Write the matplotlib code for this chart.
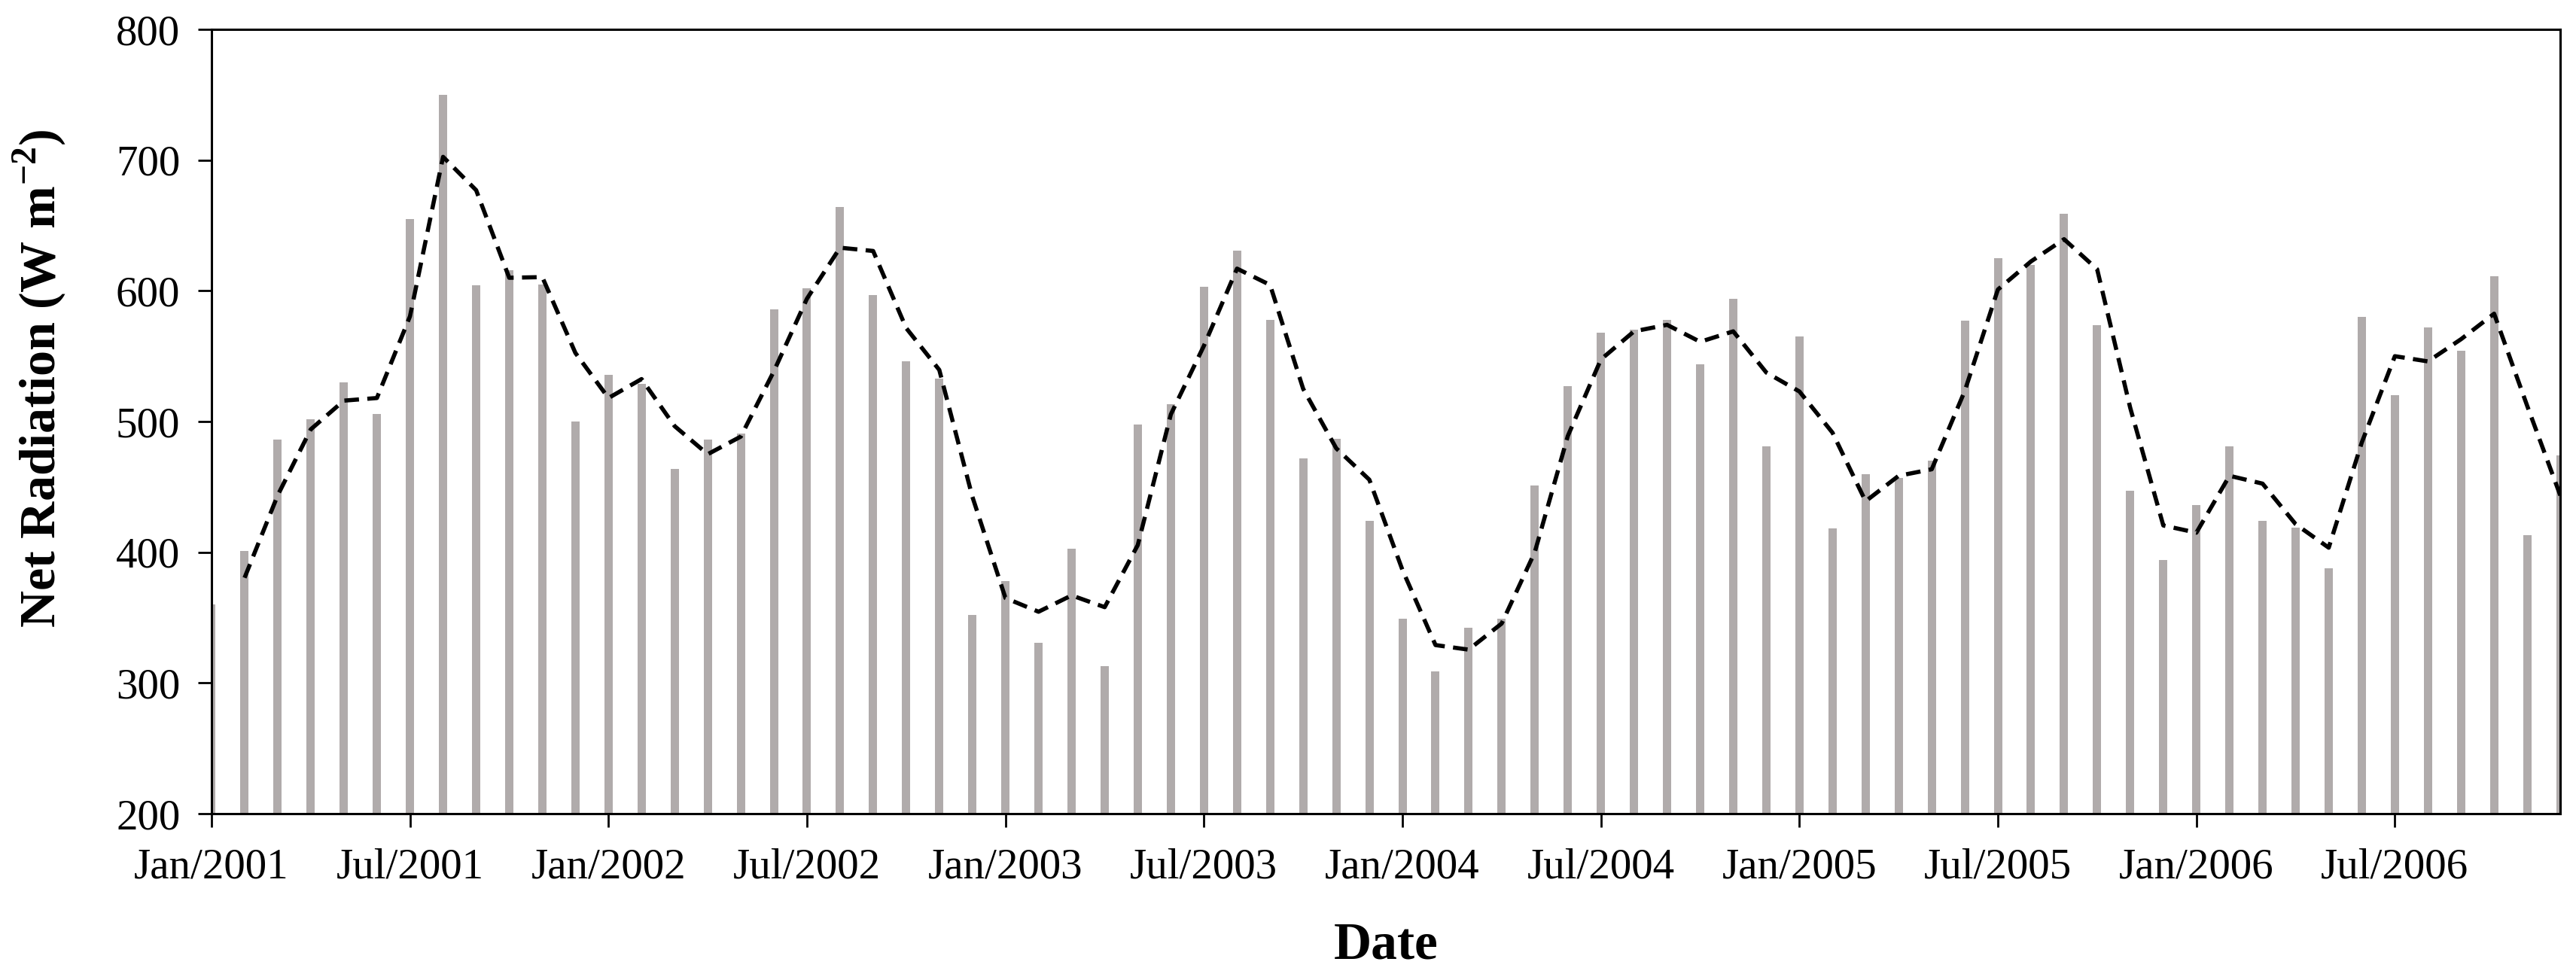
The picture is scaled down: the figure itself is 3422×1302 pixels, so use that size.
"""
Monthly net radiation, Jan/2001 - Dec/2006, bars with a 2-month moving average.
"""

import matplotlib
matplotlib.use('Agg')
import matplotlib.pyplot as plt
import numpy as np
import pandas as pd

# Monthly net radiation (W m-2)
net_radiation = [
    360, 401, 486, 502, 530, 506, 655, 750, 604, 616, 605, 500,   # 2001
    536, 529, 464, 486, 491, 586, 602, 664, 597, 546, 533, 352,   # 2002
    378, 331, 403, 313, 498, 513, 603, 631, 578, 472, 487, 424,   # 2003
    349, 309, 342, 349, 451, 527, 568, 570, 578, 544, 594, 481,   # 2004
    565, 418, 460, 457, 470, 577, 625, 620, 659, 574, 447, 394,   # 2005
    436, 481, 424, 419, 388, 580, 520, 572, 554, 611, 413, 474,   # 2006
]

tick_labels = ['Jan/2001', 'Jul/2001', 'Jan/2002', 'Jul/2002', 'Jan/2003', 'Jul/2003',
               'Jan/2004', 'Jul/2004', 'Jan/2005', 'Jul/2005', 'Jan/2006', 'Jul/2006']

y_ticks = [200, 300, 400, 500, 600, 700, 800]

plt.rcParams['font.family'] = ['Liberation Serif', 'DejaVu Serif']
plt.rcParams['mathtext.fontset'] = 'custom'
plt.rcParams['mathtext.rm'] = 'Liberation Serif'
plt.rcParams['mathtext.bf'] = 'Liberation Serif:bold'

fig, ax = plt.subplots(figsize=(34.22, 13.02), dpi=100)
fig.subplots_adjust(left=0.0821, right=0.9939, top=0.970, bottom=0.1697)

x = np.arange(len(net_radiation))
series = pd.Series(net_radiation, index=x)

# Bars
ax.bar(x, series.values, width=0.25, color='#B0ABAB', zorder=2)

# 2-period moving average trendline
trend = series.rolling(2).mean()
ax.plot(x, trend.values, color='black', linewidth=4, linestyle=(0, (3.5, 2)), zorder=3)

ax.set_xlim(0, len(net_radiation) - 1)
ax.set_ylim(200, 800)
ax.set_yticks(y_ticks)
ax.set_xticks(x[::6])
ax.set_xticklabels(tick_labels)

ax.tick_params(axis='both', direction='out', length=13, width=2, labelsize=41, colors='black')
ax.tick_params(axis='y', pad=17)
ax.tick_params(axis='x', pad=20)
for spine in ax.spines.values():
    spine.set_linewidth(2.2)
    spine.set_zorder(4)

ax.set_ylabel(r'Net Radiation (W m$^{\mathbf{-2}}$)', fontsize=49, fontweight='bold')
ax.set_xlabel('Date', fontsize=50, fontweight='bold')
ax.yaxis.set_label_coords(-0.061, 0.555)
ax.xaxis.set_label_coords(0.5, -0.138)

fig.savefig('out.png', dpi=100)
